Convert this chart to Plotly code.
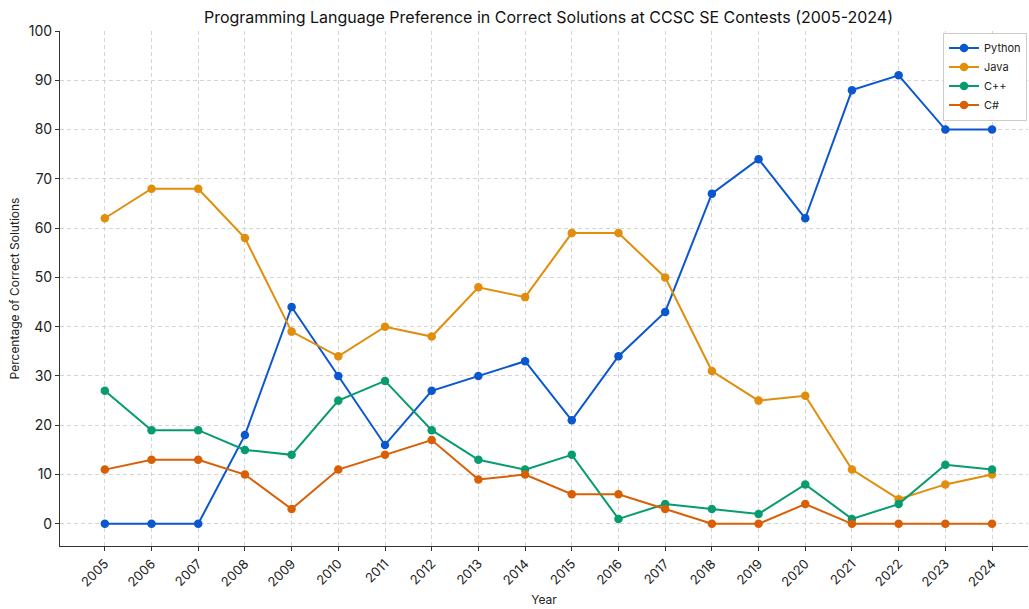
import plotly.graph_objects as go

years = list(range(2005, 2025))
python = [0, 0, 0, 18, 44, 30, 16, 27, 30, 33, 21, 34, 43, 67, 74, 62, 88, 91, 80, 80]
java = [62, 68, 68, 58, 39, 34, 40, 38, 48, 46, 59, 59, 50, 31, 25, 26, 11, 5, 8, 10]
cpp = [27, 19, 19, 15, 14, 25, 29, 19, 13, 11, 14, 1, 4, 3, 2, 8, 1, 4, 12, 11]
csharp = [11, 13, 13, 10, 3, 11, 14, 17, 9, 10, 6, 6, 3, 0, 0, 4, 0, 0, 0, 0]

series = [("Python", python, "#0b57d0"), ("Java", java, "#e08e0b"),
          ("C++", cpp, "#079b70"), ("C#", csharp, "#d95f07")]

FONT = "Inter, Roboto, sans-serif"
fig = go.Figure()
for name, vals, col in series:
    fig.add_trace(go.Scatter(x=years, y=vals, name=name, mode="lines+markers",
                             line=dict(color=col, width=2), marker=dict(color=col, size=8.5)))

fig.update_layout(
    width=1029, height=609,
    margin=dict(l=60, r=1, t=31, b=63),
    paper_bgcolor="white", plot_bgcolor="white",
    font=dict(family=FONT, size=12, color="#222"),
    title=dict(text="Programming Language Preference in Correct Solutions at CCSC SE Contests (2005-2024)",
               x=0.533, xanchor="center", y=0.972, yanchor="middle", font=dict(size=16, color="#111")),
    legend=dict(x=0.999, y=0.997, xanchor="right", yanchor="top", bgcolor="white",
                bordercolor="#cccccc", borderwidth=1, font=dict(size=11), itemwidth=30,
                tracegroupgap=0),
    showlegend=True,
)
fig.update_xaxes(range=[2004.04, 2024.77], tickmode="array", tickvals=years,
                 ticktext=[str(y) for y in years], tickangle=-45, automargin=False,
                 showgrid=True, gridcolor="#d4d4d4", griddash="4px,3px", gridwidth=1,
                 showline=True, linecolor="#333", linewidth=1, ticks="outside",
                 ticklen=4, tickcolor="#333", zeroline=False,
                 title=dict(text="Year", font=dict(size=12), standoff=6),
                 tickfont=dict(size=13))
fig.update_yaxes(range=[-4.5, 100], tickmode="array", tickvals=list(range(0, 101, 10)),
                 showgrid=True, gridcolor="#d4d4d4", griddash="4px,3px", gridwidth=1,
                 showline=True, linecolor="#333", linewidth=1, ticks="outside",
                 ticklen=4, tickcolor="#333", zeroline=False, automargin=False,
                 title=dict(text="Percentage of Correct Solutions", font=dict(size=12), standoff=6),
                 tickfont=dict(size=14))
fig.write_html("out.html", config={"displayModeBar": False},
               post_script="document.body.style.margin='0';document.body.style.overflow='hidden';")
